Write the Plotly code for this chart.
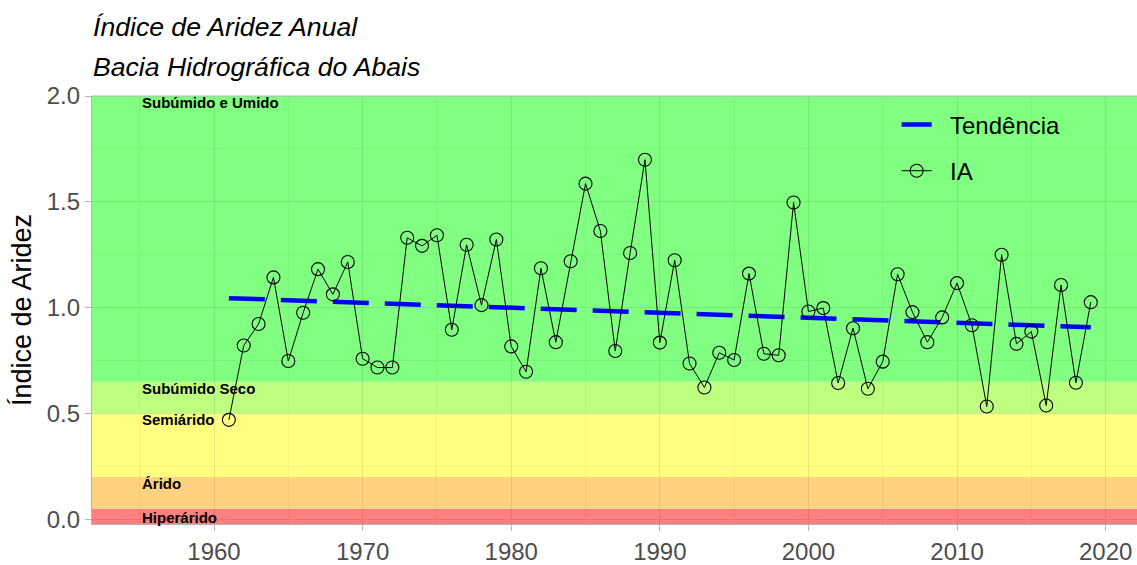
import plotly.graph_objects as go

years = [1961, 1962, 1963, 1964, 1965, 1966, 1967, 1968, 1969, 1970,
         1971, 1972, 1973, 1974, 1975, 1976, 1977, 1978, 1979, 1980,
         1981, 1982, 1983, 1984, 1985, 1986, 1987, 1988, 1989, 1990,
         1991, 1992, 1993, 1994, 1995, 1996, 1997, 1998, 1999, 2000,
         2001, 2002, 2003, 2004, 2005, 2006, 2007, 2008, 2009, 2010,
         2011, 2012, 2013, 2014, 2015, 2016, 2017, 2018, 2019]
ia = [0.470, 0.821, 0.923, 1.143, 0.748, 0.976, 1.182, 1.063, 1.216, 0.759,
      0.717, 0.717, 1.330, 1.292, 1.342, 0.896, 1.297, 1.012, 1.322, 0.817,
      0.697, 1.186, 0.837, 1.219, 1.586, 1.362, 0.795, 1.258, 1.699, 0.835,
      1.224, 0.736, 0.623, 0.787, 0.753, 1.161, 0.782, 0.775, 1.497, 0.982,
      0.998, 0.644, 0.903, 0.617, 0.745, 1.158, 0.979, 0.837, 0.954, 1.116,
      0.917, 0.533, 1.250, 0.829, 0.887, 0.538, 1.107, 0.645, 1.026]

trend_years = [1961, 2019]
trend_values = [1.045, 0.907]

band_names = ["Hiperárido", "Árido", "Semiárido", "Subúmido Seco", "Subúmido e Umido"]
band_low = [-1.0, 0.05, 0.2, 0.5, 0.65]
band_high = [0.05, 0.2, 0.5, 0.65, 3.0]
band_colors = ["#FF8080", "#FFD280", "#FFFF80", "#BFFF80", "#80FF80"]
label_y = [0.011, 0.168, 0.47, 0.617, 1.97]
label_x = 1955

x_ticks = [1960, 1970, 1980, 1990, 2000, 2010, 2020]
y_ticks = [0.0, 0.5, 1.0, 1.5, 2.0]

FONT = "Liberation Sans, Arial"
NB = "\u00a0\u00a0"

fig = go.Figure()

for lo, hi, col in zip(band_low, band_high, band_colors):
    fig.add_shape(type="rect", xref="paper", x0=0, x1=1, yref="y", y0=lo, y1=hi,
                  fillcolor=col, line=dict(width=0), layer="below")

fig.add_trace(go.Scatter(x=trend_years, y=trend_values, mode="lines", name=NB + "Tendência",
                         legendgroup="t",
                         line=dict(color="#0000FF", width=4.5, dash="36px,16px")))
fig.add_trace(go.Scatter(x=years, y=ia, mode="lines+markers", name=NB + "IA",
                         legendgroup="ia",
                         line=dict(color="black", width=1),
                         marker=dict(symbol="circle-open", size=13, color="black",
                                     line=dict(width=1.1, color="black"))))

for name, yv in zip(band_names, label_y):
    fig.add_annotation(x=label_x, y=yv, xref="x", yref="y", text="<b>" + name + "</b>",
                       showarrow=False, xanchor="left", yanchor="middle",
                       font=dict(family=FONT, size=15, color="black"))

fig.add_annotation(x=0, y=1, xref="paper", yref="paper", text="<i>Índice de Aridez Anual</i>",
                   showarrow=False, xanchor="left", yanchor="middle", yshift=69, xshift=-1,
                   font=dict(family=FONT, size=26.6, color="black"))
fig.add_annotation(x=0, y=1, xref="paper", yref="paper", text="<i>Bacia Hidrográfica do Abais</i>",
                   showarrow=False, xanchor="left", yanchor="middle", yshift=29, xshift=-1,
                   font=dict(family=FONT, size=26.6, color="black"))
fig.add_annotation(x=0, y=0.5, xref="paper", yref="paper", text="Índice de Aridez",
                   showarrow=False, textangle=-90, xanchor="center", yanchor="middle", xshift=-70,
                   font=dict(family=FONT, size=27, color="black"))

# top border of panel
fig.add_shape(type="line", xref="paper", yref="paper", x0=0, x1=1, y0=1, y1=1,
              line=dict(color="#B3B3B3", width=1.2), layer="above")

GRID = "rgba(0,0,0,0.045)"
fig.update_layout(
    width=1137, height=565,
    margin=dict(l=92, r=0, t=96, b=37),
    paper_bgcolor="white", plot_bgcolor="white",
    font=dict(family=FONT, color="#4D4D4D"),
    showlegend=True,
    legend=dict(x=0.770, y=0.985, xanchor="left", yanchor="top",
                bgcolor="rgba(0,0,0,0)", borderwidth=0, tracegroupgap=12,
                font=dict(family=FONT, size=24, color="black")),
    xaxis=dict(range=[1951.79, 2022.11], tickvals=x_ticks, ticks="outside", ticklen=6,
               tickcolor="#B3B3B3", tickfont=dict(size=24, color="#4D4D4D"),
               showgrid=True, gridcolor=GRID, gridwidth=1,
               minor=dict(dtick=5, showgrid=True, gridcolor=GRID, gridwidth=0.7),
               showline=True, linecolor="#B3B3B3", linewidth=1.2, mirror=False,
               zeroline=False),
    yaxis=dict(range=[-0.022, 2.0], tickvals=y_ticks, tickformat=".1f", ticks="outside",
               ticklen=6, tickcolor="#B3B3B3", tickfont=dict(size=24, color="#4D4D4D"),
               showgrid=True, gridcolor=GRID, gridwidth=1,
               minor=dict(dtick=0.25, showgrid=True, gridcolor=GRID, gridwidth=0.7),
               showline=True, linecolor="#B3B3B3", linewidth=1.2, mirror=False,
               zeroline=False),
)

fig.write_html("out.html", config={"displayModeBar": False},
               post_script="document.body.style.margin='0';")
